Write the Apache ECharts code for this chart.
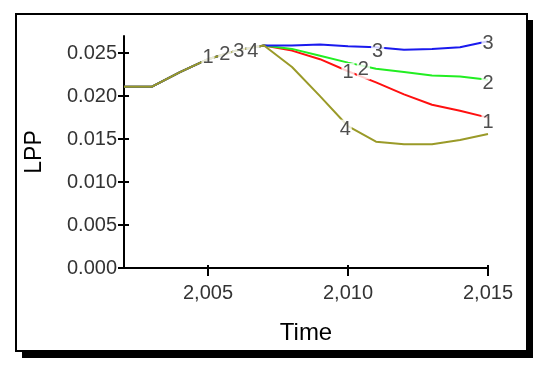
<!DOCTYPE html>
<html>
<head>
<meta charset="utf-8">
<script src="https://cdn.jsdelivr.net/npm/echarts@6/dist/echarts.min.js"></script>
<style>
body{margin:0;background:#fff;}
#chart{width:533px;height:366px;}
</style>
</head>
<body>
<div id="chart"></div>
<script>
// 年份
var years = [2002,2003,2004,2005,2006,2007,2008,2009,2010,2011,2012,2013,2014,2015];
// 历史部分 (2002-2006), 四条线相同
var pastVals = [0.0211,0.0211,0.0228,0.0243,0.0253];
// 2007-2015 各方案
var run1 = [0.0259,0.0253,0.0243,0.0229,0.0216,0.0202,0.0190,0.0183,0.0175];
var run2 = [0.0259,0.0255,0.0247,0.0239,0.0232,0.0228,0.0224,0.0223,0.0219];
var run3 = [0.0259,0.0259,0.0260,0.0258,0.0257,0.0254,0.0255,0.0257,0.0264];
var run4 = [0.0259,0.0234,0.0200,0.0165,0.0147,0.0144,0.0144,0.0149,0.0156];
// 线上的编号标签位置
var marks1 = [[2005.0,0.0245],[2010.0,0.0227],[2015.0,0.0169]];
var marks2 = [[2005.6,0.0249],[2010.55,0.0231],[2015.0,0.0215]];
var marks3 = [[2006.1,0.0252],[2011.06,0.0252],[2015.0,0.0261]];
var marks4 = [[2006.6,0.0252],[2009.9,0.0161]];
// 刻度
var xTicks = [2005,2010,2015];
var yTicks = [0,0.005,0.010,0.015,0.020,0.025];

var colors = ['#ff1010','#22ee22','#1a1aee','#9a9a28'];
var font = '"Liberation Sans", Arial, sans-serif';

function toPairs(vals){
	var all = pastVals.concat(vals);
	var out = [];
	for(var i=0;i<years.length;i++){
		out.push([years[i],all[i]]);
	}
	return out;
}
function toMarks(pts,txt){
	var out = [];
	for(var i=0;i<pts.length;i++){
		out.push({value:pts[i],name:txt});
	}
	return out;
}
function lineSeries(vals,color){
	return {
		type:'line',
		data:toPairs(vals),
		showSymbol:false,
		symbol:'none',
		lineStyle:{color:color,width:2},
		z:2
	};
}
function markSeries(pts,txt){
	return {
		type:'scatter',
		data:toMarks(pts,txt),
		symbolSize:0,
		z:5,
		label:{
			show:true,
			position:'inside',
			formatter:'{b}',
			fontFamily:font,
			fontSize:20,
			color:'#222',
			backgroundColor:'#fff',
			padding:[0,1]
		}
	};
}

var myChart = echarts.init(document.getElementById('chart'));
var tickStyle = {color:'#000',width:2};
var option = {
	animation:false,
	backgroundColor:'#fff',
	graphic:[
		{type:'rect',z:-10,silent:true,shape:{x:22,y:20,width:511,height:338},style:{fill:'#000'}},
		{type:'rect',z:-9,silent:true,shape:{x:16,y:14,width:511,height:337},style:{fill:'#fff',stroke:'#000',lineWidth:2}}
	],
	grid:{left:124,right:45,top:36,bottom:98},
	xAxis:[
		{
			type:'value',min:2002,max:2015,
			axisLine:{lineStyle:tickStyle},
			axisTick:{customValues:xTicks,length:8,lineStyle:tickStyle},
			axisLabel:{
				customValues:xTicks,margin:15,fontFamily:font,fontSize:20,color:'#333',
				formatter:function(v){return String(v).replace(/\B(?=(\d{3})+$)/,',');}
			},
			splitLine:{show:false},
			name:'Time',nameLocation:'middle',nameGap:53,
			nameTextStyle:{fontFamily:font,fontSize:24,color:'#000'}
		},
		{
			type:'value',min:2002,max:2015,position:'bottom',
			axisLine:{show:false},
			axisTick:{customValues:xTicks,inside:true,length:3,lineStyle:tickStyle},
			axisLabel:{show:false},
			splitLine:{show:false}
		}
	],
	yAxis:[
		{
			type:'value',min:0,max:0.027,
			axisLine:{show:true,lineStyle:tickStyle},
			axisTick:{show:true,customValues:yTicks,length:6,lineStyle:tickStyle},
			axisLabel:{
				customValues:yTicks,margin:7,fontFamily:font,fontSize:20,color:'#333',
				formatter:function(v){return v.toFixed(3);}
			},
			splitLine:{show:false},
			name:'LPP',nameLocation:'middle',nameGap:78,nameRotate:90,
			nameTextStyle:{fontFamily:font,fontSize:23,color:'#000'}
		},
		{
			type:'value',min:0,max:0.027,position:'left',
			axisLine:{show:false},
			axisTick:{show:true,customValues:yTicks,inside:true,length:5,lineStyle:tickStyle},
			axisLabel:{show:false},
			splitLine:{show:false}
		}
	],
	series:[
		lineSeries(run1,colors[0]),
		lineSeries(run2,colors[1]),
		lineSeries(run3,colors[2]),
		lineSeries(run4,colors[3]),
		markSeries(marks1,'1'),
		markSeries(marks2,'2'),
		markSeries(marks3,'3'),
		markSeries(marks4,'4')
	]
};
myChart.setOption(option);
</script>
</body>
</html>
